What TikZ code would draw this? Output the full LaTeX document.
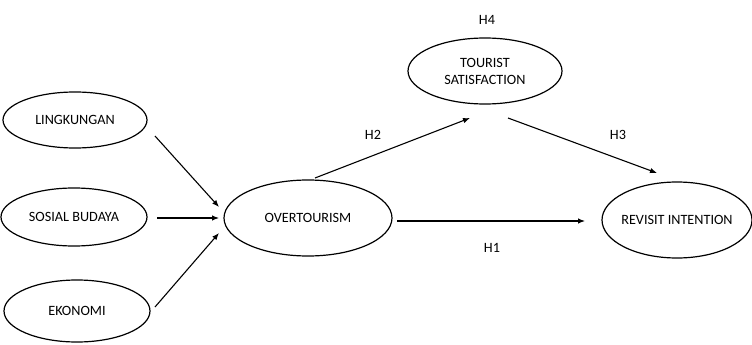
\documentclass[tikz,border=0pt]{standalone}
\usepackage{fontspec}
\setmainfont{Carlito}
\usetikzlibrary{shapes.geometric,arrows.meta}
\begin{document}
\begin{tikzpicture}[x=1pt,y=-1pt,
  txt/.style={font=\fontsize{14.2}{17}\selectfont,align=center},
  ell/.style={draw,ellipse,line width=1.2pt,inner sep=0pt},
  conn/.style={line width=1.1pt,-{Latex[length=7pt,width=5.5pt]}},
  lbl/.style={txt}]
\useasboundingbox (0,0) rectangle (752,345);
\node[ell,minimum width=144pt,minimum height=56pt,label={[txt]center:LINGKUNGAN}] (ling) at (75,120) {};
\node[ell,minimum width=146pt,minimum height=58pt,label={[txt]center:SOSIAL BUDAYA}] (sos) at (74,217) {};
\node[ell,minimum width=146pt,minimum height=62pt,label={[txt]center:EKONOMI}] (eko) at (77,311) {};
\node[ell,minimum width=168pt,minimum height=76pt,label={[txt]center:OVERTOURISM}] (over) at (308,218) {};
\node[ell,minimum width=154pt,minimum height=66pt,label={[txt]center:TOURIST\\SATISFACTION}] (tour) at (485,71) {};
\node[ell,minimum width=150pt,minimum height=76pt,label={[txt]center:REVISIT INTENTION}] (rev) at (677,220) {};
\coordinate (a1s) at (155,136);
\coordinate (a1e) at (219,207);
\coordinate (a2s) at (157,218);
\coordinate (a2e) at (219,218);
\coordinate (a3s) at (155,307);
\coordinate (a3e) at (219,233);
\coordinate (b1s) at (315,178);
\coordinate (b1e) at (470,118);
\coordinate (b2s) at (508,118);
\coordinate (b2e) at (657,173);
\coordinate (b3s) at (397,221);
\coordinate (b3e) at (585,221);
\draw[conn] (a1s) -- (a1e);
\draw[conn] (a2s) -- (a2e);
\draw[conn] (a3s) -- (a3e);
\draw[conn] (b1s) -- (b1e);
\draw[conn] (b2s) -- (b2e);
\draw[conn] (b3s) -- (b3e);
\node[lbl] (h4) at (487,20) {H4};
\node[lbl] (h2) at (373,135) {H2};
\node[lbl] (h3) at (618,135) {H3};
\node[lbl] (h1) at (492,248) {H1};
\end{tikzpicture}
\end{document}
